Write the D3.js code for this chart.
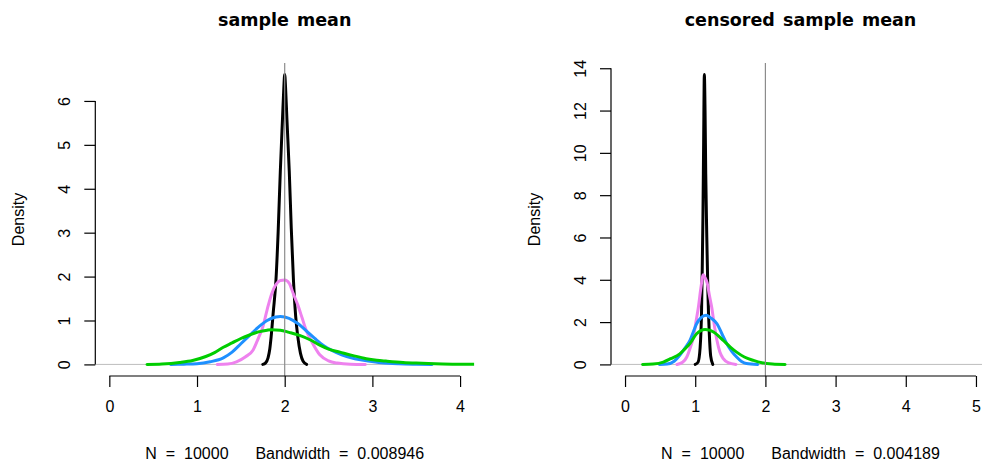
<!DOCTYPE html>
<html>
<head>
<meta charset="utf-8">
<script src="https://cdn.jsdelivr.net/npm/d3@7"></script>
<style>
  body { margin: 0; background: #fff; }
  svg { display: block; }
</style>
</head>
<body>
<div id="chart"></div>
<script>
// density curves: [x, density]
var meanBlack = [[1.75,0],[1.78,0.03],[1.81,0.15],[1.83,0.35],[1.845,0.62],[1.87,1.2],[1.90,1.91],[1.925,3.0],[1.95,4.4],[1.975,5.6],[1.99,6.3],[2.0,6.6],[2.01,6.3],[2.025,5.6],[2.052,4.4],[2.075,3.1],[2.10,1.91],[2.125,1.1],[2.15,0.62],[2.18,0.25],[2.21,0.07],[2.25,0]];
var meanPink = [[1.23,0],[1.35,0.01],[1.45,0.06],[1.55,0.17],[1.64,0.33],[1.70,0.6],[1.75,0.85],[1.80,1.25],[1.85,1.6],[1.90,1.82],[1.95,1.91],[2.0,1.92],[2.05,1.85],[2.10,1.6],[2.15,1.35],[2.20,1.05],[2.25,0.75],[2.30,0.55],[2.40,0.22],[2.50,0.08],[2.60,0.03],[2.75,0.005],[2.92,0]];
var meanBlue = [[0.70,0],[0.85,0.005],[1.0,0.015],[1.15,0.06],[1.30,0.15],[1.40,0.28],[1.50,0.47],[1.60,0.66],[1.70,0.85],[1.80,1.0],[1.90,1.08],[1.95,1.09],[2.05,1.05],[2.15,0.93],[2.25,0.76],[2.35,0.58],[2.45,0.42],[2.55,0.31],[2.65,0.22],[2.80,0.13],[2.95,0.08],[3.10,0.04],[3.30,0.015],[3.50,0.005],[3.68,0]];
var meanGreen = [[0.43,0],[0.6,0.01],[0.8,0.045],[0.95,0.09],[1.10,0.18],[1.20,0.27],[1.30,0.39],[1.40,0.49],[1.50,0.59],[1.60,0.67],[1.70,0.74],[1.80,0.78],[1.85,0.79],[1.95,0.78],[2.05,0.73],[2.17,0.66],[2.30,0.55],[2.40,0.44],[2.50,0.35],[2.63,0.28],[2.78,0.20],[2.93,0.13],[3.05,0.095],[3.16,0.075],[3.35,0.045],[3.50,0.03],[3.80,0.012],[4.15,0.005],[4.3,0.003]];

var censBlack = [[1.00,0],[1.04,0.1],[1.07,0.8],[1.09,2.5],[1.10,4.5],[1.11,7.0],[1.12,10.5],[1.13,13.7],[1.14,12.0],[1.15,9.0],[1.165,6.0],[1.18,3.5],[1.20,1.5],[1.22,0.4],[1.25,0]];
var censPink = [[0.74,0],[0.82,0.1],[0.88,0.35],[0.93,0.8],[0.975,1.3],[1.01,2.0],[1.045,2.7],[1.08,3.6],[1.115,4.24],[1.14,4.1],[1.17,3.85],[1.20,3.3],[1.235,2.7],[1.27,1.9],[1.31,1.13],[1.35,0.6],[1.40,0.27],[1.47,0.08],[1.58,0]];
var censBlue = [[0.49,0],[0.60,0.02],[0.70,0.15],[0.78,0.43],[0.85,0.75],[0.925,1.13],[0.98,1.6],[1.02,1.92],[1.08,2.2],[1.155,2.32],[1.22,2.2],[1.31,1.92],[1.38,1.45],[1.45,0.98],[1.52,0.62],[1.59,0.35],[1.66,0.14],[1.73,0.04],[1.89,0]];
var censGreen = [[0.25,0],[0.40,0.02],[0.545,0.11],[0.65,0.27],[0.78,0.5],[0.85,0.72],[0.925,0.98],[1.02,1.45],[1.08,1.6],[1.14,1.65],[1.20,1.62],[1.26,1.53],[1.33,1.35],[1.40,1.13],[1.50,0.82],[1.59,0.58],[1.70,0.35],[1.83,0.19],[1.95,0.08],[2.10,0.02],[2.28,0]];

var curveColors = ["black", "violet", "dodgerblue", "#00cd00"];
var meanXTicks = [0, 1, 2, 3, 4];
var meanYTicks = [0, 1, 2, 3, 4, 5, 6];
var censXTicks = [0, 1, 2, 3, 4, 5];
var censYTicks = [0, 2, 4, 6, 8, 10, 12, 14];
var trueMean = 2;

var width = 982, height = 466;
var labelFont = "'Liberation Sans', Arial, sans-serif";

var svg = d3.select("#chart")
  .append("svg")
  .attr("width", width)
  .attr("height", height)
  .style("font-family", labelFont);

// one R style density panel
function drawPanel(p) {
  var g = svg.append("g");
  var xScale = d3.scaleLinear().domain(p.xlim).range([p.left, p.right]);
  var yScale = d3.scaleLinear().domain(p.ylim).range([376, 63]);

  var clipId = "clip" + p.id;
  g.append("clipPath").attr("id", clipId)
    .append("rect")
    .attr("x", p.left).attr("y", 63)
    .attr("width", p.right - p.left).attr("height", 376 - 63);

  var plot = g.append("g").attr("clip-path", "url(#" + clipId + ")");

  // zero line
  plot.append("line")
    .attr("x1", p.left).attr("x2", p.right)
    .attr("y1", yScale(0)).attr("y2", yScale(0))
    .attr("stroke", "#bebebe").attr("stroke-width", 1);

  var line = d3.line()
    .x(function (d) { return xScale(d[0]); })
    .y(function (d) { return yScale(d[1]); })
    .curve(d3.curveMonotoneX);

  p.curves.forEach(function (c, i) {
    plot.append("path")
      .datum(c)
      .attr("d", line)
      .attr("fill", "none")
      .attr("stroke", curveColors[i])
      .attr("stroke-width", 3)
      .attr("stroke-linejoin", "round")
      .attr("stroke-linecap", "round");
  });

  // true mean
  plot.append("line")
    .attr("x1", xScale(trueMean)).attr("x2", xScale(trueMean))
    .attr("y1", 63).attr("y2", 376)
    .attr("stroke", "#8c8c8c").attr("stroke-width", 1.2);

  // x axis
  var xAxis = g.append("g")
    .attr("transform", "translate(0,376)")
    .call(d3.axisBottom(xScale).tickValues(p.xticks).tickSize(11).tickPadding(14).tickFormat(d3.format("d")));
  xAxis.select(".domain").remove();
  xAxis.append("line")
    .attr("x1", xScale(p.xticks[0])).attr("x2", xScale(p.xticks[p.xticks.length - 1]));
  xAxis.selectAll("line").attr("stroke", "black").attr("stroke-width", 1.2);
  xAxis.selectAll("text").style("font-size", "16px").style("font-family", labelFont).attr("fill", "black");

  // y axis
  var axisX = p.left;
  var yAxis = g.append("g")
    .attr("transform", "translate(" + axisX + ",0)")
    .call(d3.axisLeft(yScale).tickValues(p.yticks).tickSize(11).tickFormat(d3.format("d")));
  yAxis.select(".domain").remove();
  yAxis.append("line")
    .attr("y1", yScale(p.yticks[0])).attr("y2", yScale(p.yticks[p.yticks.length - 1]));
  yAxis.selectAll("line").attr("stroke", "black").attr("stroke-width", 1.2);
  yAxis.selectAll("text")
    .attr("x", null)
    .attr("text-anchor", "middle")
    .style("font-size", "16px").style("font-family", labelFont).attr("fill", "black")
    .attr("transform", "translate(-31,0) rotate(-90)")
    .attr("dy", "0.36em");

  // labels
  g.append("text")
    .attr("transform", "translate(" + (axisX - 77) + "," + ((63 + 376) / 2) + ") rotate(-90)")
    .attr("text-anchor", "middle")
    .attr("dy", "0.36em")
    .style("font-size", "16px")
    .text("Density");

  var cx = (p.left + p.right) / 2;
  g.append("text")
    .attr("x", cx).attr("y", 26)
    .attr("text-anchor", "middle")
    .style("font-family", "'DejaVu Sans', sans-serif")
    .style("font-weight", "bold")
    .style("font-size", "17.5px")
    .style("word-spacing", "2px")
    .text(p.title);

  g.append("text")
    .attr("x", cx).attr("y", 459)
    .attr("text-anchor", "middle")
    .style("font-size", "16px")
    .style("white-space", "pre")
    .style("word-spacing", "4.5px")
    .text(p.sub);
}

drawPanel({
  id: 1, left: 95.3, right: 474.1, xlim: [-0.16, 4.16], ylim: [-0.264, 6.864],
  xticks: meanXTicks, yticks: meanYTicks,
  curves: [meanBlack, meanPink, meanBlue, meanGreen],
  title: "sample mean", sub: "N = 10000   Bandwidth = 0.008946"
});

drawPanel({
  id: 2, left: 611, right: 990, xlim: [-0.2, 5.2], ylim: [-0.548, 14.248],
  xticks: censXTicks, yticks: censYTicks,
  curves: [censBlack, censPink, censBlue, censGreen],
  title: "censored sample mean", sub: "N = 10000   Bandwidth = 0.004189"
});
</script>
</body>
</html>
